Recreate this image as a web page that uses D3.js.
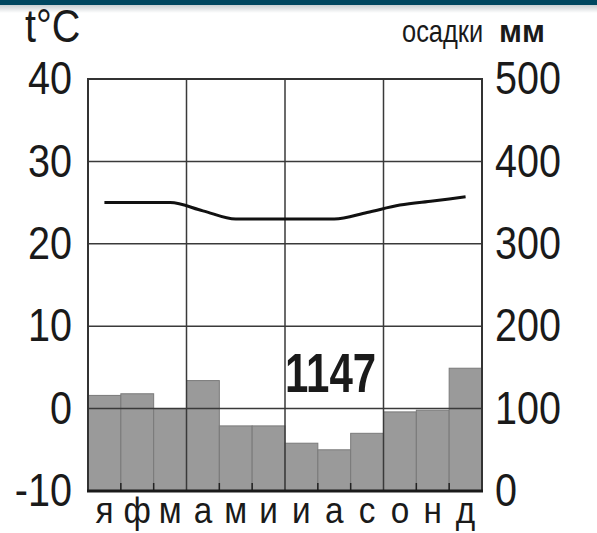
<!DOCTYPE html>
<html>
<head>
<meta charset="utf-8">
<script src="https://cdn.jsdelivr.net/npm/d3@7"></script>
<style>
  body { margin: 0; background: #fff; }
  text { font-family: "Liberation Sans", Arial, sans-serif; fill: #1a1a1a; }
</style>
</head>
<body>
<svg id="svg"></svg>
<script>
// climate chart data
const months = ['я', 'ф', 'м', 'а', 'м', 'и', 'и', 'а', 'с', 'о', 'н', 'д']
const temperature = [25, 25, 25, 24, 23, 23, 23, 23, 23.8, 24.7, 25.2, 25.7]
const precipitation = [116, 118, 100, 134, 79, 79, 58, 50, 70, 96, 98, 149]
const tempTicks = [-10, 0, 10, 20, 30, 40]
const precTicks = [0, 100, 200, 300, 400, 500]
const totalLabel = '1147'

const W = 597, H = 533
const chart = { left: 88, right: 482, top: 79, bottom: 491 }

const svg = d3.select('#svg')
  .attr('width', W)
  .attr('height', H)

// top band
const grad = svg.append('defs').append('linearGradient')
  .attr('id', 'shade').attr('x1', 0).attr('x2', 0).attr('y1', 0).attr('y2', 1)
grad.append('stop').attr('offset', 0).attr('stop-color', '#c9cfd2')
grad.append('stop').attr('offset', 1).attr('stop-color', '#ffffff')
svg.append('rect').attr('x', 0).attr('y', 5).attr('width', W).attr('height', 8).attr('fill', 'url(#shade)')
svg.append('rect').attr('x', 0).attr('y', 0).attr('width', W).attr('height', 5).attr('fill', '#004760')

const x = d3.scaleBand()
  .domain(d3.range(12))
  .range([chart.left, chart.right])
  .padding(0)

const yT = d3.scaleLinear().domain([-10, 40]).range([chart.bottom, chart.top])
const yP = d3.scaleLinear().domain([0, 500]).range([chart.bottom, chart.top])

// bars
svg.append('g').selectAll('rect')
  .data(precipitation)
  .enter()
  .append('rect')
  .attr('x', (d, i) => x(i))
  .attr('y', d => yP(d))
  .attr('width', x.bandwidth())
  .attr('height', d => chart.bottom - yP(d))
  .attr('fill', '#9a9a9a')
  .attr('stroke', '#7a7a7a')
  .attr('stroke-width', 1)

// grid
const grid = svg.append('g').attr('stroke', '#3a3a3a').attr('stroke-width', 1.5)
grid.selectAll('line.h')
  .data(tempTicks.slice(1, -1))
  .enter().append('line')
  .attr('x1', chart.left).attr('x2', chart.right)
  .attr('y1', d => yT(d)).attr('y2', d => yT(d))
grid.selectAll('line.v')
  .data([3, 6, 9])
  .enter().append('line')
  .attr('x1', d => x(d)).attr('x2', d => x(d))
  .attr('y1', chart.top).attr('y2', chart.bottom)

// month ticks at the bottom
svg.append('g').attr('stroke', '#222').attr('stroke-width', 1.5)
  .selectAll('line')
  .data(d3.range(1, 12).filter(i => i % 3 !== 0))
  .enter().append('line')
  .attr('x1', d => x(d)).attr('x2', d => x(d))
  .attr('y1', chart.bottom - 8).attr('y2', chart.bottom)

// frame
svg.append('path')
  .attr('d', `M${chart.left},${chart.bottom}V${chart.top}H${chart.right}V${chart.bottom}`)
  .attr('fill', 'none').attr('stroke', '#333').attr('stroke-width', 2)
svg.append('line')
  .attr('x1', chart.left - 1).attr('x2', chart.right + 1)
  .attr('y1', chart.bottom).attr('y2', chart.bottom)
  .attr('stroke', '#1a1a1a').attr('stroke-width', 3)

// temperature line
const line = d3.line()
  .x((d, i) => x(i) + x.bandwidth() / 2)
  .y(d => yT(d))
  .curve(d3.curveMonotoneX)
svg.append('path')
  .datum(temperature)
  .attr('d', line)
  .attr('fill', 'none')
  .attr('stroke', '#111')
  .attr('stroke-width', 3)

// left axis
const leftAxis = svg.append('g')
  .attr('transform', 'translate(' + chart.left + ',0)')
  .call(d3.axisLeft(yT).tickValues(tempTicks).tickSize(0).tickFormat(d => String(d)))
leftAxis.select('.domain').remove()
leftAxis.selectAll('text')
  .attr('x', null)
  .attr('transform', 'translate(-16,0) scale(0.86,1)')
  .style('font-size', '46px')
  .attr('fill', '#1a1a1a')

// right axis
const rightAxis = svg.append('g')
  .attr('transform', 'translate(' + chart.right + ',0)')
  .call(d3.axisRight(yP).tickValues(precTicks).tickSize(0))
rightAxis.select('.domain').remove()
rightAxis.selectAll('text')
  .attr('x', null)
  .attr('transform', 'translate(13,0) scale(0.86,1)')
  .style('font-size', '46px')
  .attr('fill', '#1a1a1a')

// month labels
const bottomAxis = svg.append('g')
  .attr('transform', 'translate(0,' + chart.bottom + ')')
  .call(d3.axisBottom(x).tickSize(0).tickFormat(i => months[i]))
bottomAxis.select('.domain').remove()
bottomAxis.selectAll('text')
  .attr('y', null).attr('dy', null)
  .attr('transform', 'translate(0,32) scale(0.9,1)')
  .style('font-size', '37px')
  .attr('fill', '#1a1a1a')

// titles
svg.append('text')
  .attr('transform', 'translate(25,42) scale(0.86,1)')
  .style('font-size', '46px')
  .text('t°C')
svg.append('text')
  .attr('transform', 'translate(402,42) scale(0.82,1)')
  .style('font-size', '31px')
  .text('осадки')
svg.append('text')
  .attr('transform', 'translate(499,42)')
  .style('font-size', '31px')
  .style('font-weight', 'bold')
  .text('мм')

// annual total
svg.append('text')
  .attr('transform', 'translate(285,392) scale(0.75,1)')
  .style('font-size', '56px')
  .style('font-weight', 'bold')
  .attr('fill', '#000')
  .text(totalLabel)
</script>
</body>
</html>
